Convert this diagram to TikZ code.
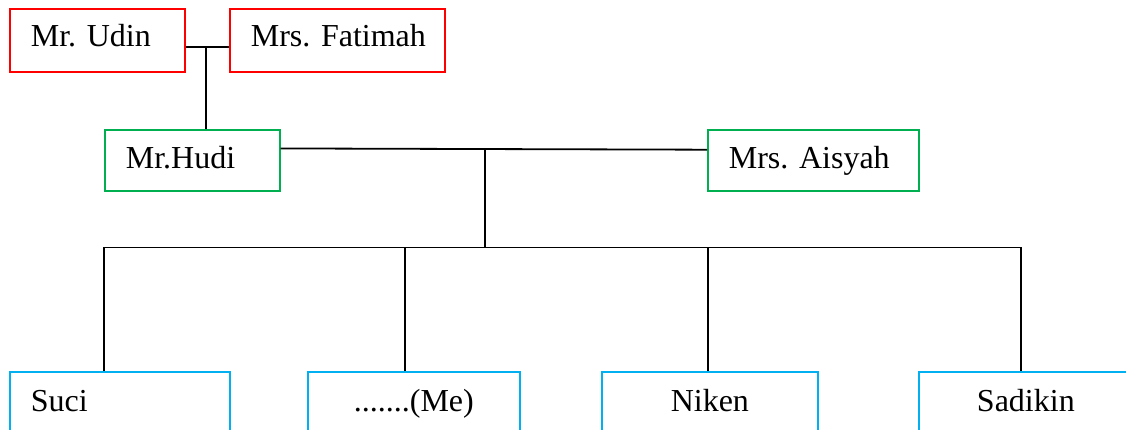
\documentclass[tikz,border=0pt]{standalone}
\usepackage{fontspec}
\setmainfont{Liberation Serif}
\usetikzlibrary{calc}
\definecolor{boxred}{RGB}{255,0,0}
\definecolor{boxgreen}{RGB}{0,176,80}
\definecolor{boxblue}{RGB}{0,176,240}
\begin{document}
\begin{tikzpicture}[x=0.5pt, y=0.5pt,
    person/.style ={rectangle, draw, line width=0.85pt, anchor=north west,
                    inner xsep=10.5pt, inner ysep=0pt,
                    font=\fontsize{16}{19}\selectfont\frenchspacing},
    grandparent/.style ={person, draw=boxred, text height=19pt, text depth=12.5pt},
    parent/.style ={person, draw=boxgreen, text height=19.5pt, text depth=11pt},
    child/.style ={person, draw=boxblue, text height=20pt, text depth=20pt},
    link/.style ={line width=0.9pt}]
   \useasboundingbox (0,0) rectangle (1126,-429);
   \clip (0,0) rectangle (1126,-429);
   % grandparents
   \node[grandparent, text width=66.5pt, align=left] (udin) at (9,-8) {\mbox{Mr. Udin}};
   \node[grandparent, text width=86.5pt, align=left] (fatimah) at (229,-8) {\mbox{Mrs. Fatimah}};
   % parents
   \node[parent, text width=66.5pt, align=left] (hudi) at (104,-129) {\mbox{Mr.Hudi}};
   \node[parent, text width=84.5pt, align=left] (aisyah) at (707,-129) {\mbox{Mrs. Aisyah}};
   % children
   \node[child, text width=89pt, align=left] (suci) at (9,-371) {Suci};
   \node[child, text width=85pt, align=center] (me) at (307,-371) {\mbox{.......(Me)}};
   \node[child, text width=87pt, align=center] (niken) at (601,-371) {Niken};
   \node[child, text width=86pt, align=center] (sadikin) at (918,-371) {Sadikin};
   % marriage lines
   \draw[link] (udin.base east) to (fatimah.base west);
   \coordinate (gm) at ($(udin.base east)!0.47!(fatimah.base west)$);
   \draw[link] (gm) to (gm |- hudi.north);
   \coordinate (hr) at ($(hudi.north east)!0.31!(hudi.south east)$);
   \coordinate (al) at ($(aisyah.north west)!0.33!(aisyah.south west)$);
   \draw[link] (hr) to (al);
   \coordinate (pm) at ($(hr)!0.48!(al)$);
   \path (pm) ++(0,-98.5) coordinate (bar);
   \draw[link] (pm) to (bar);
   % drops to the children
   \coordinate (sucitop) at ($(suci.north west)!0.43!(suci.north east)$);
   \coordinate (metop) at ($(me.north west)!0.46!(me.north east)$);
   \coordinate (nikentop) at ($(niken.north west)!0.49!(niken.north east)$);
   \coordinate (sadikintop) at ($(sadikin.north west)!0.477!(sadikin.north east)$);
   \draw[link] (sucitop) |- (bar) -| (sadikintop);
   \draw[link] (metop) to (metop |- bar);
   \draw[link] (nikentop) to (nikentop |- bar);
\end{tikzpicture}
\end{document}
